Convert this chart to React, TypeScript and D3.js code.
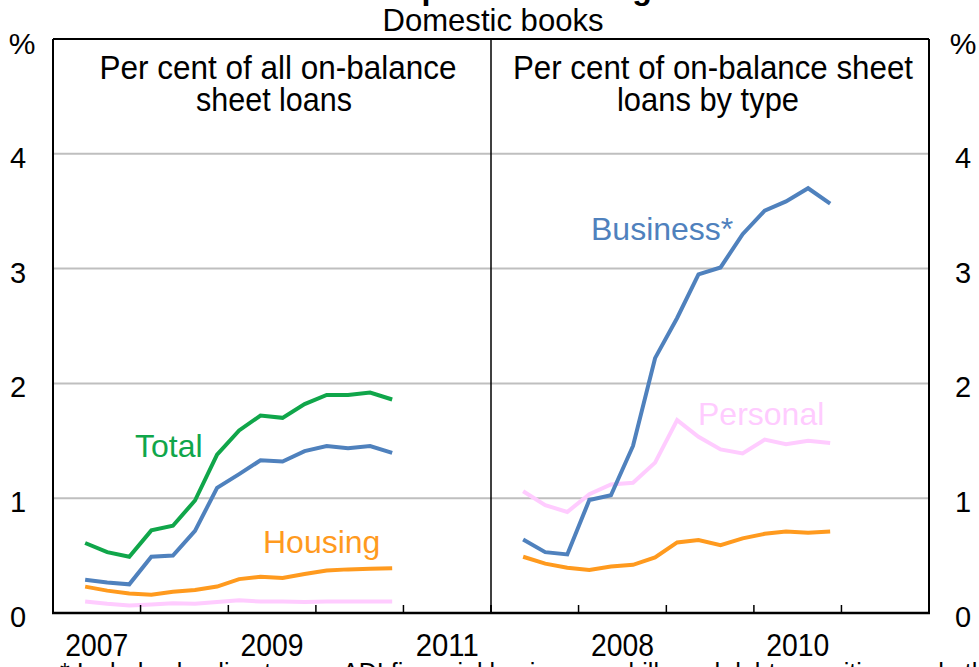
import React from "react";
import * as d3 from "d3";

// ---- Data (quarterly, % of loans) ----
const quarters: Date[] = [
  new Date(2007, 4, 15), new Date(2007, 7, 15), new Date(2007, 10, 15),
  new Date(2008, 1, 15), new Date(2008, 4, 15), new Date(2008, 7, 15), new Date(2008, 10, 15),
  new Date(2009, 1, 15), new Date(2009, 4, 15), new Date(2009, 7, 15), new Date(2009, 10, 15),
  new Date(2010, 1, 15), new Date(2010, 4, 15), new Date(2010, 7, 15), new Date(2010, 10, 15),
];

// Left panel: per cent of all on-balance sheet loans
const totalAll = [0.61, 0.53, 0.49, 0.72, 0.76, 0.98, 1.38, 1.59, 1.72, 1.70, 1.82, 1.90, 1.90, 1.92, 1.86];
const businessAll = [0.29, 0.265, 0.25, 0.49, 0.5, 0.715, 1.09, 1.21, 1.33, 1.32, 1.41, 1.455, 1.435, 1.455, 1.395];
const housingAll = [0.23, 0.195, 0.17, 0.16, 0.185, 0.2, 0.23, 0.295, 0.315, 0.305, 0.34, 0.37, 0.38, 0.385, 0.39];
const personalAll = [0.1, 0.08, 0.065, 0.075, 0.085, 0.08, 0.095, 0.11, 0.1, 0.1, 0.095, 0.1, 0.1, 0.1, 0.1];

// Right panel: per cent of on-balance sheet loans by type
const businessType = [0.64, 0.53, 0.51, 0.985, 1.025, 1.455, 2.22, 2.57, 2.95, 3.01, 3.3, 3.505, 3.585, 3.7, 3.565];
const personalType = [1.06, 0.94, 0.88, 1.035, 1.12, 1.135, 1.31, 1.68, 1.535, 1.425, 1.39, 1.51, 1.47, 1.5, 1.48];
const housingType = [0.49, 0.43, 0.395, 0.375, 0.405, 0.42, 0.485, 0.615, 0.635, 0.59, 0.65, 0.69, 0.71, 0.7, 0.71];

const yTicks = [0, 1, 2, 3, 4];
const gridValues = [1, 2, 3, 4];
const yearTicks = [2007, 2008, 2009, 2010, 2011, 2012];
const leftYearLabels = [2007, 2009, 2011];
const rightYearLabels = [2008, 2010];

const COLORS = {
  total: "#10A64A",
  business: "#4F81BD",
  housing: "#FF9A1E",
  personal: "#FFCCFF",
  grid: "#BFBFBF",
};

const FONT = "'Liberation Sans', Arial, sans-serif";

export default function App() {
  const W = 979, H = 667;
  const left = 53, mid = 491, right = 929;
  const top = 39, bottom = 613;

  const y = d3.scaleLinear().domain([0, 5]).range([bottom, top]);
  const xDomain = [new Date(2007, 0, 1), new Date(2012, 0, 1)];
  const xL = d3.scaleTime().domain(xDomain).range([left, mid]);
  const xR = d3.scaleTime().domain(xDomain).range([mid, right]);

  const mkLine = (x: d3.ScaleTime<number, number>) =>
    d3.line<number>().x((_, i) => x(quarters[i])).y((d) => y(d));

  const lineL = mkLine(xL);
  const lineR = mkLine(xR);

  const yearCenter = (x: d3.ScaleTime<number, number>, yr: number) =>
    (x(new Date(yr, 0, 1)) + x(new Date(yr + 1, 0, 1))) / 2;

  return (
    <svg
      width={W}
      height={H}
      viewBox={`0 0 ${W} ${H}`}
      style={{ position: "absolute", left: 0, top: 0, background: "#fff" }}
      fontFamily={FONT}
    >
      <rect x={0} y={0} width={W} height={H} fill="#fff" />
      {/* Title (cut off at top) */}
      <text x={271} y={-1} fontSize={32} fontWeight="bold" textLength={381} lengthAdjust="spacingAndGlyphs">
        Banks' Impaired Lending
      </text>
      <text x={493} y={31} fontSize={32} textAnchor="middle" textLength={221} lengthAdjust="spacingAndGlyphs">
        Domestic books
      </text>

      {/* gridlines */}
      {gridValues.map((v) => (
        <line key={v} x1={left} x2={right} y1={y(v)} y2={y(v)} stroke={COLORS.grid} strokeWidth={2} />
      ))}

      {/* panel titles */}
      <text x={278} y={79} fontSize={33} textAnchor="middle" textLength={357} lengthAdjust="spacingAndGlyphs">
        Per cent of all on-balance
      </text>
      <text x={274} y={111} fontSize={33} textAnchor="middle" textLength={156} lengthAdjust="spacingAndGlyphs">
        sheet loans
      </text>
      <text x={713} y={79} fontSize={33} textAnchor="middle" textLength={400} lengthAdjust="spacingAndGlyphs">
        Per cent of on-balance sheet
      </text>
      <text x={708} y={111} fontSize={33} textAnchor="middle" textLength={182} lengthAdjust="spacingAndGlyphs">
        loans by type
      </text>

      {/* Left panel lines */}
      <path d={lineL(personalAll) || ""} fill="none" stroke={COLORS.personal} strokeWidth={4} />
      <path d={lineL(housingAll) || ""} fill="none" stroke={COLORS.housing} strokeWidth={4} />
      <path d={lineL(businessAll) || ""} fill="none" stroke={COLORS.business} strokeWidth={4} />
      <path d={lineL(totalAll) || ""} fill="none" stroke={COLORS.total} strokeWidth={4} />

      {/* Right panel lines */}
      <path d={lineR(housingType) || ""} fill="none" stroke={COLORS.housing} strokeWidth={4} />
      <path d={lineR(personalType) || ""} fill="none" stroke={COLORS.personal} strokeWidth={4} />
      <path d={lineR(businessType) || ""} fill="none" stroke={COLORS.business} strokeWidth={4} />

      {/* series labels */}
      <text x={135} y={457} fontSize={32} fill={COLORS.total}>Total</text>
      <text x={263} y={553} fontSize={32} fill={COLORS.housing}>Housing</text>
      <text x={591} y={240} fontSize={32} fill={COLORS.business}>Business*</text>
      <text x={698} y={425} fontSize={32} fill={COLORS.personal}>Personal</text>

      {/* frame */}
      <line x1={left} x2={right} y1={top} y2={top} stroke="#000" strokeWidth={2} />
      <line x1={left} x2={left} y1={top} y2={bottom} stroke="#000" strokeWidth={2} />
      <line x1={right} x2={right} y1={top} y2={bottom} stroke="#000" strokeWidth={2} />
      <line x1={mid} x2={mid} y1={top} y2={bottom} stroke="#000" strokeWidth={1.5} />
      <line x1={left - 1} x2={right + 1} y1={bottom} y2={bottom} stroke="#000" strokeWidth={2.5} />

      {/* x ticks (inside, upward) */}
      {yearTicks.map((yr) => (
        <g key={"t" + yr}>
          <line x1={xL(new Date(yr, 0, 1))} x2={xL(new Date(yr, 0, 1))} y1={bottom} y2={bottom - 8} stroke="#000" strokeWidth={1.5} />
          <line x1={xR(new Date(yr, 0, 1))} x2={xR(new Date(yr, 0, 1))} y1={bottom} y2={bottom - 8} stroke="#000" strokeWidth={1.5} />
        </g>
      ))}

      {/* x labels */}
      {leftYearLabels.map((yr) => (
        <text key={"l" + yr} x={yearCenter(xL, yr)} y={656} fontSize={31} textAnchor="middle" textLength={63} lengthAdjust="spacingAndGlyphs">{yr}</text>
      ))}
      {rightYearLabels.map((yr) => (
        <text key={"r" + yr} x={yearCenter(xR, yr)} y={656} fontSize={31} textAnchor="middle" textLength={63} lengthAdjust="spacingAndGlyphs">{yr}</text>
      ))}

      {/* y labels */}
      {yTicks.map((v) => (
        <g key={"y" + v}>
          <text x={18} y={y(v) + 14} fontSize={29} textAnchor="middle">{v}</text>
          <text x={963} y={y(v) + 14} fontSize={29} textAnchor="middle">{v}</text>
        </g>
      ))}
      <text x={22} y={54} fontSize={30} textAnchor="middle">%</text>
      <text x={963} y={54} fontSize={30} textAnchor="middle">%</text>

      {/* footnote (cut off at bottom) */}
      <text x={60} y={681} fontSize={25}>
        * Includes lending to non-ADI financial businesses, bills and debt securities, and other non-household loans
      </text>
    </svg>
  );
}
